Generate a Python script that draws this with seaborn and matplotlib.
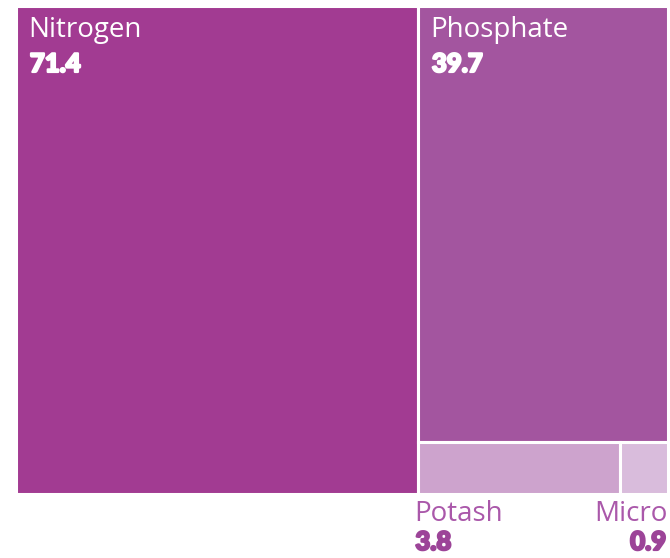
import matplotlib
matplotlib.use("Agg")
import matplotlib.pyplot as plt
import matplotlib.patheffects as pe
import seaborn as sns

# Fertilizer nutrient totals
categories = ["Nitrogen", "Phosphate", "Potash", "Micro"]
values = [71.4, 39.7, 3.8, 0.9]
colors = ["#A23B92", "#A3559F", "#CDA3CD", "#D9BCDC"]

sns.set_theme(style="white")
plt.rcParams["font.family"] = ["Open Sans", "DejaVu Sans"]

W, H = 652.0, 488.0
LABEL_SIZE = 20
VALUE_SIZE = 18.5
VALUE_FONT = dict(fontweight="black", family=["Lato", "DejaVu Sans"])


def heavy(color):
    # thicken the numerals with an outline in the text colour
    return [pe.Stroke(linewidth=1.6, foreground=color), pe.Normal()]


def slice_layout(vals, x, y, w, h):
    """Slice-and-dice: each item cuts the remaining rectangle along its longer side."""
    rects = []
    remaining = float(sum(vals))
    for v in vals:
        frac = v / remaining if remaining else 1.0
        if w >= h:
            cw = w * frac
            rects.append((x, y, cw, h))
            x += cw
            w -= cw
        else:
            ch = h * frac
            rects.append((x, y, w, ch))
            y += ch
            h -= ch
        remaining -= v
    return rects


rects = slice_layout(values, 0.0, 0.0, W, H)

fig = plt.figure(figsize=(6.70, 5.58), dpi=100)
ax = fig.add_axes([16 / 670, (558 - 494) / 558, 652 / 670, 488 / 558])
ax.set_xlim(0, W)
ax.set_ylim(H, 0)
ax.set_axis_off()

for (x, y, w, h), c in zip(rects, colors):
    ax.bar(x, h, width=w, bottom=y, align="edge", color=c,
           edgecolor="white", linewidth=2.2)

outside_label = "#AA58AA"
outside_value = "#9C4498"

for i, ((x, y, w, h), cat, val) in enumerate(zip(rects, categories, values)):
    if h > 100 and w > 100:
        ax.annotate(cat, (x, y), xytext=(9, -22.3), textcoords="offset points",
                    ha="left", va="baseline", fontsize=LABEL_SIZE, color="white")
        ax.annotate(f"{val}", (x, y), xytext=(10, -47.5), textcoords="offset points",
                    ha="left", va="baseline", fontsize=VALUE_SIZE, color="white",
                    path_effects=heavy("white"), **VALUE_FONT)
    else:
        last = (i == len(values) - 1)
        ha = "right" if last else "left"
        ax_x = x + w if last else x
        dx = -0.5 if last else -2.5
        ax.annotate(cat, (ax_x, H), xytext=(dx, -19.4), textcoords="offset points",
                    ha=ha, va="baseline", fontsize=LABEL_SIZE, color=outside_label,
                    annotation_clip=False)
        ax.annotate(f"{val}", (ax_x, H), xytext=(dx - (0.6 if last else -0.6), -40.3),
                    textcoords="offset points",
                    ha=ha, va="baseline", fontsize=VALUE_SIZE, color=outside_value,
                    annotation_clip=False, path_effects=heavy(outside_value),
                    **VALUE_FONT)

fig.savefig("out.png", dpi=100)
